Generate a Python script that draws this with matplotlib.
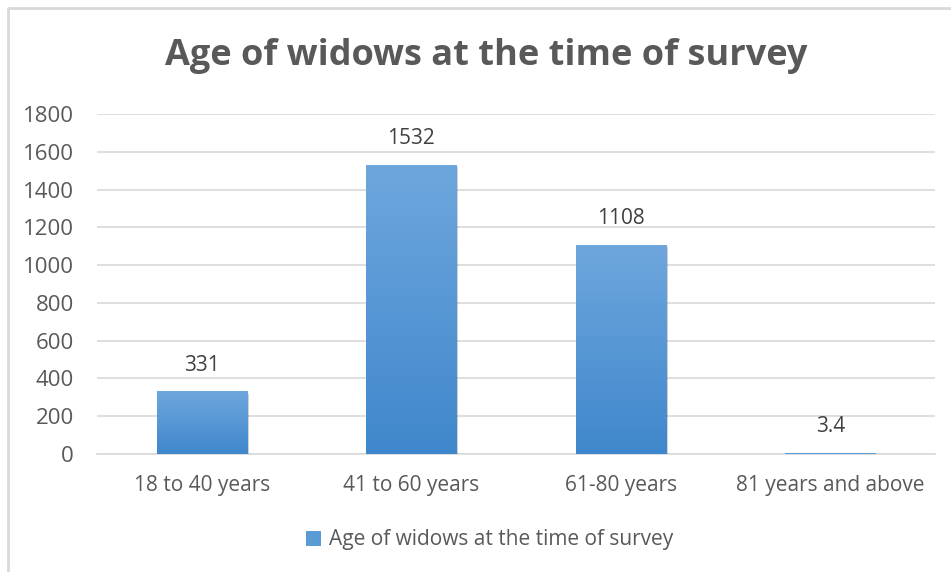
import matplotlib
matplotlib.use("Agg")
import matplotlib.pyplot as plt
import numpy as np
from matplotlib.colors import LinearSegmentedColormap
import matplotlib.patheffects as pe
from matplotlib.patches import Rectangle
from matplotlib.lines import Line2D

categories = ["18 to 40 years", "41 to 60 years", "61-80 years", "81 years and above"]
values = [331, 1532, 1108, 3.4]
value_labels = ["331", "1532", "1108", "3.4"]
yticks = [0, 200, 400, 600, 800, 1000, 1200, 1400, 1600, 1800]
series_name = "Age of widows at the time of survey"
title = "Age of widows at the time of survey"

plt.rcParams['font.family'] = ['Open Sans', 'DejaVu Sans']
text_color = "#595959"

fig = plt.figure(figsize=(9.51, 5.72), dpi=100)
ax = fig.add_axes([97/951, 1-454/572, 838/951, 340/572])

x = np.arange(len(categories))
bars = ax.bar(x, values, width=0.43, color="#5b9bd5", zorder=3)

cmap = LinearSegmentedColormap.from_list("g", ["#3f87cc", "#6ea7dd"])
grad = np.linspace(0, 1, 256).reshape(-1, 1)
for b in bars:
    b.set_path_effects([pe.SimplePatchShadow(offset=(1.5, -1.5), shadow_rgbFace="#000000", alpha=0.18), pe.Normal()])
    x0, w, h = b.get_x(), b.get_width(), b.get_height()
    if h > 0:
        im = ax.imshow(grad, extent=[x0, x0 + w, 0, h], origin="lower", cmap=cmap,
                       aspect="auto", zorder=4, interpolation="bicubic")
        im.set_clip_path(b)

for xi, v, lab in zip(x, values, value_labels):
    ax.annotate(lab, (xi, v), xytext=(0, 19), textcoords="offset points",
                ha="center", va="center", fontsize=15, color="#404040")

ax.set_xlim(-0.5, len(categories) - 0.5)
ax.set_ylim(0, 1800)
ax.set_yticks(yticks)
ax.set_yticklabels([str(t) for t in yticks], fontsize=16, color=text_color)
ax.set_xticks(x)
ax.set_xticklabels(categories, fontsize=15, color=text_color)
ax.tick_params(axis="both", length=0)
ax.tick_params(axis="x", pad=15)
ax.tick_params(axis="y", pad=16.5)
ax.grid(axis="y", color="#d9d9d9", linewidth=1.2, zorder=0)
ax.set_axisbelow(True)
for s in ["top", "right", "left"]:
    ax.spines[s].set_visible(False)
ax.spines["bottom"].set_color("#d9d9d9")
ax.spines["bottom"].set_linewidth(1.2)

fig.text(486/951, 1-56/572, title, ha="center", va="center", fontsize=26,
         fontweight="bold", color=text_color)

leg = fig.legend([Rectangle((0, 0), 1, 1, facecolor="#5b9bd5")], [series_name],
                 loc="center", bbox_to_anchor=(490/951, 1-540/572), frameon=False,
                 fontsize=15, handlelength=0.7, handleheight=0.7, handletextpad=0.4,
                 labelcolor=text_color)

# frame: top and left edges only (the rest is cropped off in the reference)
fig.lines.append(Line2D([8/951, 8/951, 1], [0, 1-7.5/572, 1-7.5/572], transform=fig.transFigure,
                        color="#d9d9d9", linewidth=2))

fig.savefig("out.png", dpi=100)
